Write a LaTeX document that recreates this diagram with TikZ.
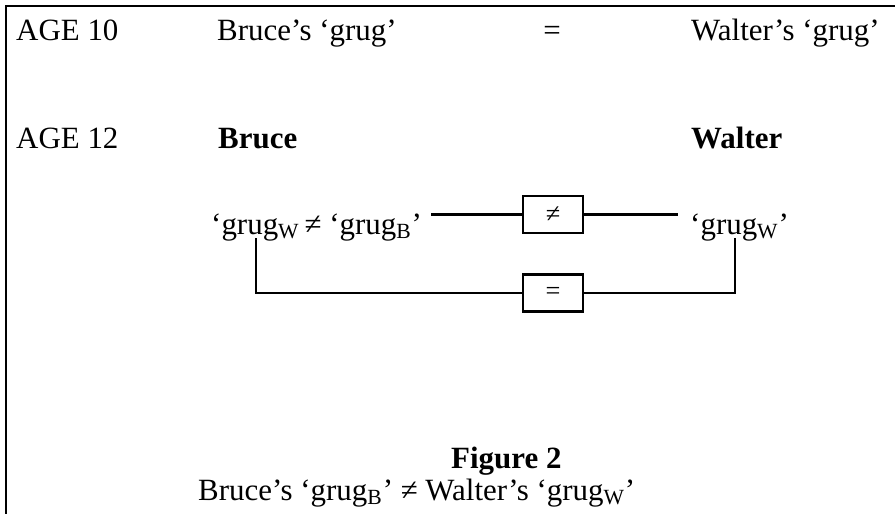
\documentclass[tikz,border=0pt]{standalone}
\usepackage{fontspec}
\setmainfont{Liberation Serif}
\tikzset{
  lbl/.style={anchor=base west,inner sep=0pt,font=\fontsize{17.6}{21}\selectfont},
  relbox/.style={draw,minimum width=1.2cm,minimum height=0.74cm,inner sep=0pt,font=\fontsize{15}{17}\selectfont},
}
\begin{document}
\begin{tikzpicture}[line width=1.4pt]
  \useasboundingbox (0,0) rectangle (17.9,-10.28);
  \draw (0.12,-10.28) -- (0.12,-0.12) -- (17.9,-0.12);
  % age 10
  \node[lbl] (age10) at (0.3,-0.82) {AGE 10};
  \node[lbl] (bruce10) at (4.32,-0.82) {Bruce’s ‘grug’};
  \node[lbl,anchor=base] (same) at (11.04,-0.82) {=};
  \node[lbl] (walter10) at (13.8,-0.82) {Walter’s ‘grug’};
  % age 12
  \node[lbl] (age12) at (0.3,-2.96) {AGE 12};
  \node[lbl] (bruce12) at (4.34,-2.96) {\bfseries Bruce};
  \node[lbl] (walter12) at (13.8,-2.96) {\bfseries Walter};
  \node[lbl] (lhs) at (4.2,-4.68) {‘grug\textsubscript{W}\,≠ ‘grug\textsubscript{B}’};
  \node[lbl] (rhs) at (13.78,-4.68) {‘grug\textsubscript{W}’};
  \node[relbox] (ne) at (11.06,-4.29) {≠};
  \node[relbox] (eq) at (11.06,-5.86) {=};
  \coordinate (ltop) at (5.12,-4.76);
  \coordinate (rtop) at (14.7,-4.76);
  \draw ([xshift=4.5pt]lhs.east |- ne.west) -- (ne);
  \draw (ne) -- ([xshift=-6.5pt]rhs.west |- ne.east);
  \draw (ltop) |- (eq);
  \draw (rtop) |- (eq);
  % caption
  \node[lbl] (fig) at (9.0,-9.36) {\bfseries Figure 2};
  \node[lbl] (cap) at (3.94,-10.0) {Bruce’s ‘grug\textsubscript{B}’ ≠ Walter’s ‘grug\textsubscript{W}’};
\end{tikzpicture}
\end{document}
